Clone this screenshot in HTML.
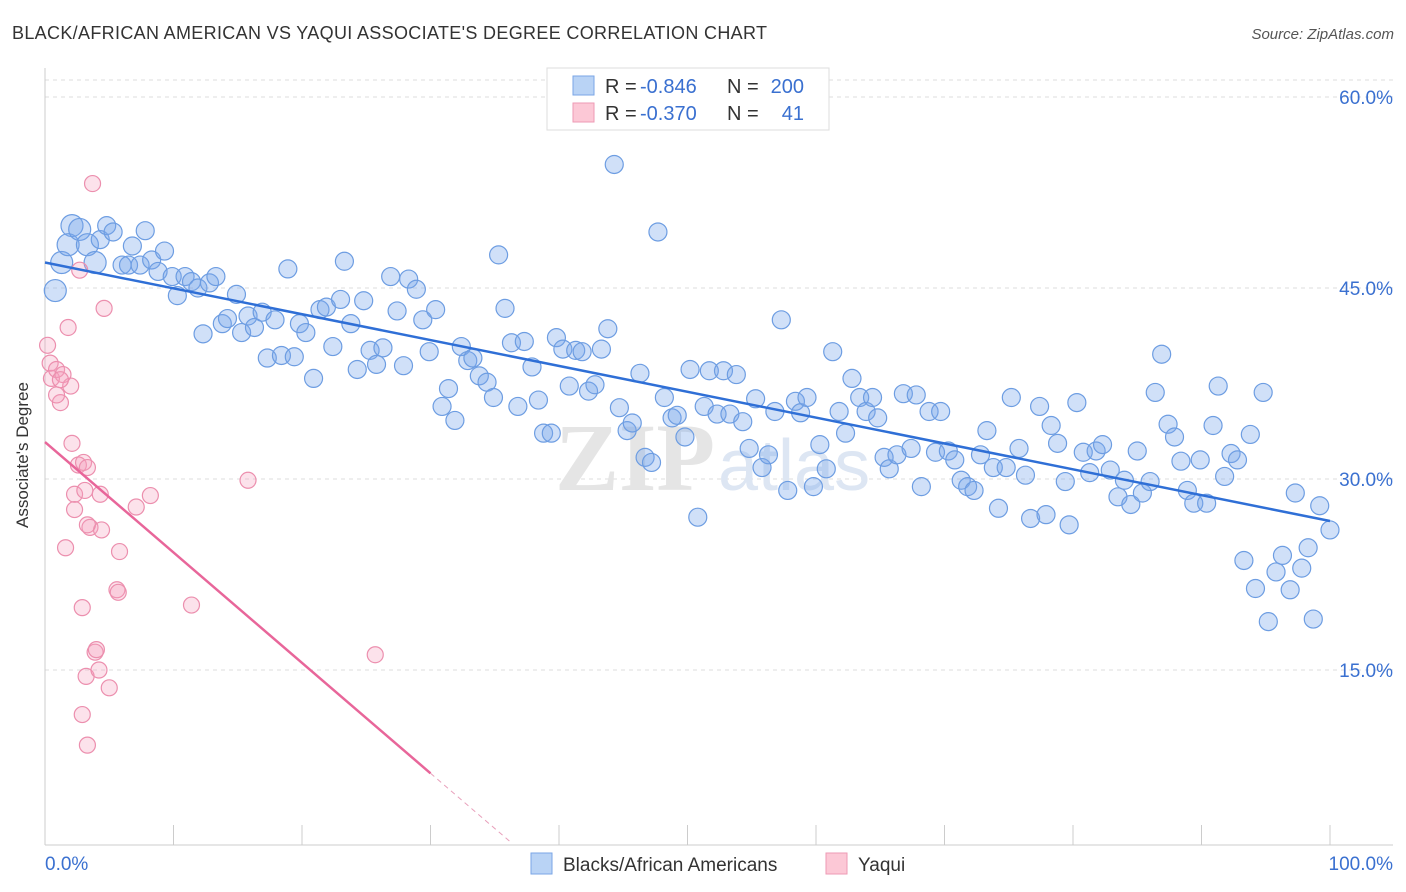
<!DOCTYPE html>
<html><head><meta charset="utf-8"><style>
body{margin:0;background:#fff;font-family:"Liberation Sans",sans-serif;}
svg{display:block}
</style></head><body>
<svg id="chart" width="1406" height="892" xmlns="http://www.w3.org/2000/svg">
<text x="12" y="39" font-size="18" fill="#333" textLength="755">BLACK/AFRICAN AMERICAN VS YAQUI ASSOCIATE'S DEGREE CORRELATION CHART</text>
<text x="1394" y="39" font-size="15" fill="#555" font-style="italic" text-anchor="end">Source: ZipAtlas.com</text>
<g id="grid"></g>
<text x="555" y="490" font-size="96" fill="#e5e5e5" font-family="Liberation Serif" font-weight="bold">ZIP</text>
<text x="718" y="490" font-size="72" fill="#dde6f3">atlas</text>
<g id="axes"></g>
<g id="blue"></g>
<g id="pink"></g>
<g id="trends"></g>
<text x="28" y="455" font-size="17" fill="#333" text-anchor="middle" transform="rotate(-90 28 455)">Associate's Degree</text>
<g>
<rect x="547" y="68" width="282" height="62" fill="#fff" stroke="#ddd"/>
<rect x="573" y="76" width="21" height="19" fill="#b9d3f5" stroke="#7aa6e6"/>
<rect x="573" y="103" width="21" height="19" fill="#fcc8d6" stroke="#ee9ab4"/>
<text x="605" y="93" font-size="20" fill="#333">R =</text>
<text x="640" y="93" font-size="20" fill="#3a70d0">-0.846</text>
<text x="727" y="93" font-size="20" fill="#333">N =</text>
<text x="804" y="93" font-size="20" fill="#3a70d0" text-anchor="end">200</text>
<text x="605" y="120" font-size="20" fill="#333">R =</text>
<text x="640" y="120" font-size="20" fill="#3a70d0">-0.370</text>
<text x="727" y="120" font-size="20" fill="#333">N =</text>
<text x="804" y="120" font-size="20" fill="#3a70d0" text-anchor="end">41</text>
</g>
<g>
<rect x="531" y="853" width="21" height="21" fill="#b9d3f5" stroke="#7aa6e6"/>
<text x="563" y="871" font-size="19" fill="#333">Blacks/African Americans</text>
<rect x="826" y="853" width="21" height="21" fill="#fcc8d6" stroke="#ee9ab4"/>
<text x="858" y="871" font-size="19" fill="#333">Yaqui</text>
</g>
</svg>
<script>
const yTicks=[15,30,45,60];
const yTickLabels=["15.0%","30.0%","45.0%","60.0%"];
const xTickLabels=["0.0%","100.0%"];
const blueX=[0.8,1.3,2.1,1.8,2.7,3.3,3.9,4.3,4.8,5.3,6.0,6.5,6.8,7.4,7.8,8.3,8.8,9.3,9.9,10.3,10.9,11.4,11.9,12.3,12.8,13.3,13.8,14.2,14.9,15.3,15.8,16.3,16.9,17.3,17.9,18.4,18.9,19.4,19.8,20.3,20.9,21.4,21.9,22.4,23.0,23.3,23.8,24.3,24.8,25.3,25.8,26.3,26.9,27.4,27.9,28.3,28.9,29.4,29.9,30.4,30.9,31.4,31.9,32.4,32.9,33.3,33.8,34.4,34.9,35.3,35.8,36.3,36.8,37.3,37.9,38.4,38.8,39.4,39.8,40.3,40.8,41.3,41.8,42.3,42.8,43.3,43.8,44.3,44.7,45.3,45.7,46.3,46.7,47.2,47.7,48.2,48.8,49.2,49.8,50.2,50.8,51.3,51.7,52.3,52.8,53.3,53.8,54.3,54.8,55.3,55.8,56.3,56.8,57.3,57.8,58.4,58.8,59.3,59.8,60.3,60.8,61.3,61.8,62.3,62.8,63.4,63.9,64.4,64.8,65.3,65.7,66.3,66.8,67.4,67.8,68.2,68.8,69.3,69.7,70.3,70.8,71.3,71.8,72.3,72.8,73.3,73.8,74.2,74.8,75.2,75.8,76.3,76.7,77.4,77.9,78.3,78.8,79.4,79.7,80.3,80.8,81.3,81.8,82.3,82.9,83.5,84.0,84.5,85.0,85.4,86.0,86.4,86.9,87.4,87.9,88.4,88.9,89.4,89.9,90.4,90.9,91.3,91.8,92.3,92.8,93.3,93.8,94.2,94.8,95.2,95.8,96.3,96.9,97.3,97.8,98.3,98.7,99.2,100];
const blueY=[44.8,47.0,49.9,48.4,49.6,48.4,47.0,48.8,49.9,49.4,46.8,46.8,48.3,46.8,49.5,47.2,46.3,47.9,45.9,44.4,45.9,45.5,45.0,41.4,45.4,45.9,42.2,42.6,44.5,41.5,42.8,41.9,43.1,39.5,42.5,39.7,46.5,39.6,42.2,41.5,37.9,43.3,43.5,40.4,44.1,47.1,42.2,38.6,44.0,40.1,39.0,40.3,45.9,43.2,38.9,45.7,44.9,42.5,40.0,43.3,35.7,37.1,34.6,40.4,39.3,39.5,38.1,37.6,36.4,47.6,43.4,40.7,35.7,40.8,38.8,36.2,33.6,33.6,41.1,40.2,37.3,40.1,40.0,36.9,37.4,40.2,41.8,54.7,35.6,33.8,34.4,38.3,31.7,31.3,49.4,36.4,34.8,35.0,33.3,38.6,27.0,35.7,38.5,35.1,38.5,35.1,38.2,34.5,32.4,36.3,30.9,31.9,35.3,42.5,29.1,36.1,35.2,36.4,29.4,32.7,30.8,40.0,35.3,33.6,37.9,36.4,35.3,36.4,34.8,31.7,30.8,31.9,36.7,32.4,36.6,29.4,35.3,32.1,35.3,32.2,31.5,29.9,29.4,29.1,31.9,33.8,30.9,27.7,30.9,36.4,32.4,30.3,26.9,35.7,27.2,34.2,32.8,29.8,26.4,36.0,32.1,30.5,32.2,32.7,30.7,28.6,29.9,28.0,32.2,28.9,29.8,36.8,39.8,34.3,33.3,31.4,29.1,28.1,31.5,28.1,34.2,37.3,30.2,32.0,31.5,23.6,33.5,21.4,36.8,18.8,22.7,24.0,21.3,28.9,23.0,24.6,19.0,27.9,26.0];
const pinkX=[0.2,0.5,0.4,0.9,1.2,1.4,1.6,1.8,2.0,2.1,2.3,2.6,2.7,2.9,3.0,3.2,3.3,3.5,3.7,3.9,4.2,4.3,4.4,4.6,5.0,5.6,5.8,7.1,8.2,11.4,15.8,25.7,2.9,3.3,3.1,0.9,1.2,4.0,5.7,2.3,3.3];
const pinkY=[40.5,37.9,39.1,38.6,36.0,38.2,24.6,41.9,37.3,32.8,28.8,31.1,46.4,19.9,31.3,14.5,30.9,26.2,53.2,16.4,15.0,28.8,26.0,43.4,13.6,21.3,24.3,27.8,28.7,20.1,29.9,16.2,11.5,9.1,29.1,36.6,37.8,16.6,21.1,27.6,26.4];
const blueTrend=[47.0,26.7];
const pinkTrend=[32.9,-0.867];
const blueBig=[0,1,2,3,4,5,6];

const NS="http://www.w3.org/2000/svg";
const X0=45,X1=1330,Y0=861,PY=191/15;
function sx(v){return X0+(X1-X0)*v/100;}
function sy(v){return Y0-v*PY;}
function mk(t,a,p){const e=document.createElementNS(NS,t);for(const k in a)e.setAttribute(k,a[k]);p.appendChild(e);return e;}
const grid=document.getElementById('grid'),axes=document.getElementById('axes');
mk('line',{x1:45,x2:1393,y1:80,y2:80,stroke:'#ddd','stroke-dasharray':'4 4'},grid);
yTicks.forEach((t,i)=>{
 const l=mk('line',{x1:45,x2:1393,y1:sy(t),y2:sy(t),stroke:'#ddd','stroke-dasharray':'4 4'},grid);
 
 
 const tx=mk('text',{x:1393,y:sy(t)+7,'font-size':19,fill:'#3a70d0','text-anchor':'end'},axes);
 tx.textContent=yTickLabels[i];
 
 
});
mk('line',{x1:45,x2:45,y1:68,y2:845,stroke:'#ccc'},axes);
mk('line',{x1:45,x2:1393,y1:845,y2:845,stroke:'#ccc'},axes);
for(let i=0;i<=10;i++){const t=mk('line',{x1:sx(i*10),x2:sx(i*10),y1:825,y2:845,stroke:'#ccc'},axes);
 
 }
[[0,'start',45],[100,'end',1393]].forEach((d,i)=>{const t=mk('text',{x:d[2],y:870,'font-size':19,fill:'#3a70d0','text-anchor':d[1]},axes);t.textContent=xTickLabels[i];
 
 });
const bg=document.getElementById('blue');
blueX.forEach((x,i)=>{const c=mk('circle',{cx:sx(x),cy:sy(blueY[i]),r:blueBig.includes(i)?11:9,fill:'rgba(120,165,235,0.35)',stroke:'#6d9de2','stroke-width':1.2},bg);
 
 });
const pg=document.getElementById('pink');
pinkX.forEach((x,i)=>{const c=mk('circle',{cx:sx(x),cy:sy(pinkY[i]),r:8,fill:'rgba(245,160,190,0.3)',stroke:'#ec8fae','stroke-width':1.2},pg);
 
 });
const tg=document.getElementById('trends');
let l=mk('line',{x1:sx(0),y1:sy(blueTrend[0]),x2:sx(100),y2:sy(blueTrend[1]),stroke:'#2f6fd6','stroke-width':2.5},tg);


const pe=v=>pinkTrend[0]+pinkTrend[1]*v;
l=mk('line',{x1:sx(0),y1:sy(pe(0)),x2:sx(30),y2:sy(pe(30)),stroke:'#e8669a','stroke-width':2.5},tg);


l=mk('line',{x1:sx(30),y1:sy(pe(30)),x2:sx(36.3),y2:sy(pe(36.3)),stroke:'#e8a0bb','stroke-width':1,'stroke-dasharray':'5 4'},tg);


</script>
</body></html>
